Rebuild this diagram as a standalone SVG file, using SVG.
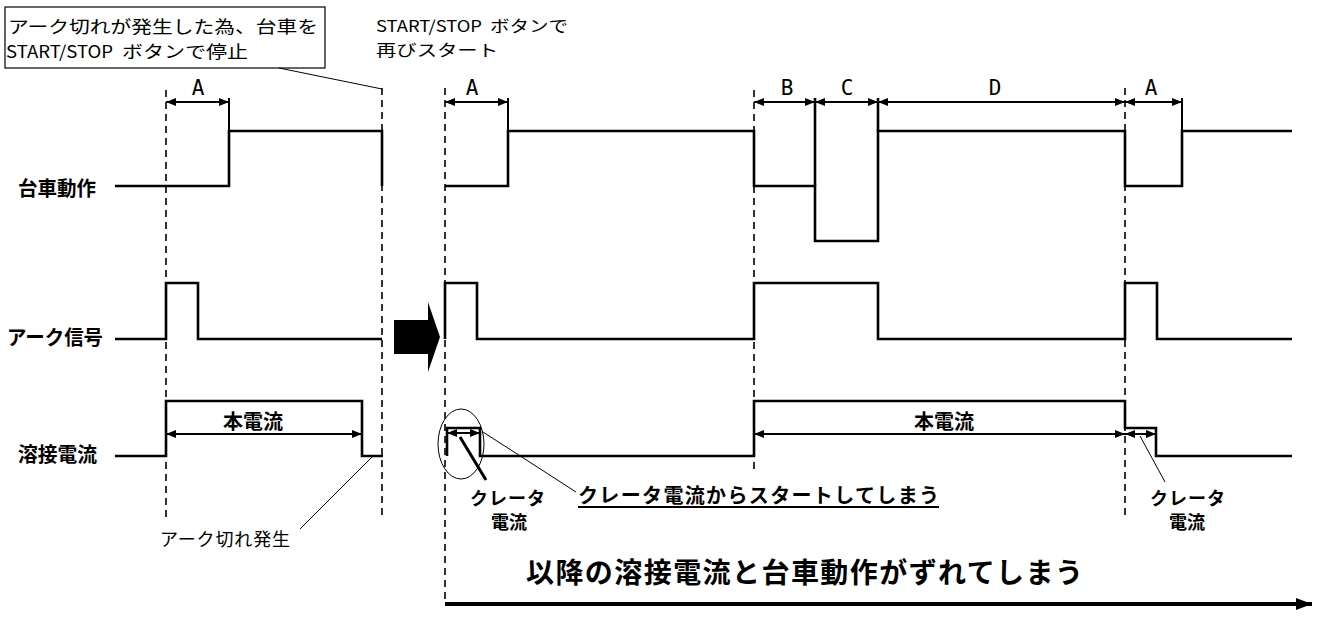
<svg xmlns="http://www.w3.org/2000/svg" width="1319" height="619" viewBox="0 0 1319 619">
<style>
.sig{fill:none;stroke:#000;stroke-width:2.6;stroke-linejoin:miter}
.dash{fill:none;stroke:#000;stroke-width:1.6;stroke-dasharray:7,5}
.dim{fill:none;stroke:#000;stroke-width:2}
.thin{fill:none;stroke:#000;stroke-width:1}
.jp{font-family:"Noto Sans CJK JP","Noto Sans CJK SC",sans-serif;fill:#000}
.b{font-weight:bold}
.lat{font-family:"DejaVu Sans Mono","Liberation Mono",monospace;fill:#000}
</style>
<defs>
<marker id="ah" viewBox="0 0 10 8" refX="10" refY="4" markerWidth="10" markerHeight="8" markerUnits="userSpaceOnUse" orient="auto-start-reverse"><path d="M0,0L10,4L0,8z" fill="#000"/></marker>
<marker id="bigah" viewBox="0 0 16 12" refX="16" refY="6" markerWidth="16" markerHeight="12" markerUnits="userSpaceOnUse" orient="auto"><path d="M0,0L16,6L0,12z" fill="#000"/></marker>
</defs>

<g id="notes">
<rect x="5" y="7" width="320" height="61" fill="#fff" stroke="#000" stroke-width="1.2"/>
<text class="jp" x="8" y="33" font-size="17" textLength="310" lengthAdjust="spacingAndGlyphs">アーク切れが発生した為、台車を</text>
<text class="jp" y="58" font-size="17"><tspan x="6" textLength="107" lengthAdjust="spacingAndGlyphs">START/STOP</tspan><tspan x="122" textLength="126" lengthAdjust="spacingAndGlyphs">ボタンで停止</tspan></text>
<text class="jp" y="32" font-size="16"><tspan x="376" textLength="106" lengthAdjust="spacingAndGlyphs">START/STOP</tspan><tspan x="490" textLength="78" lengthAdjust="spacingAndGlyphs">ボタンで</tspan></text>
<text class="jp" x="376" y="56" font-size="16" textLength="122" lengthAdjust="spacingAndGlyphs">再びスタート</text>
</g>

<g id="labels">
<text class="jp b" x="18" y="196" font-size="20" textLength="78" lengthAdjust="spacingAndGlyphs">台車動作</text>
<text class="jp b" x="7" y="345" font-size="20" textLength="96" lengthAdjust="spacingAndGlyphs">アーク信号</text>
<text class="jp b" x="18" y="462" font-size="20" textLength="79" lengthAdjust="spacingAndGlyphs">溶接電流</text>
</g>

<g id="guides">
<line class="dash" x1="166" y1="90" x2="166" y2="520"/>
<line class="dash" x1="382" y1="88" x2="382" y2="520"/>
<line class="dash" x1="445" y1="88" x2="445" y2="600"/>
<line class="dash" x1="754" y1="90" x2="754" y2="474"/>
<line class="dash" x1="1125" y1="88" x2="1125" y2="518"/>
</g>

<g id="daisha">
<polyline class="sig" points="115,186 229,186 229,131 382,131 382,186"/>
<polyline class="sig" points="445,186 508,186 508,131 754,131 754,186 815,186 815,241 878,241 878,131 1125,131 1125,186 1182,186 1182,131 1292,131"/>
</g>

<g id="arc">
<polyline class="sig" points="115,339 166,339 166,283 198,283 198,339 382,339"/>
<polyline class="sig" points="445,339 445,283 477,283 477,339 754,339 754,283 878,283 878,339 1125,339 1125,283 1157,283 1157,339 1292,339"/>
</g>

<g id="weld">
<polyline class="sig" points="115,456 166,456 166,401 362,401 362,456 383,456"/>
<polyline class="sig" points="447,456 447,428 480,428 480,456 754,456 754,401 1125,401 1125,428 1156,428 1156,456 1292,456"/>
</g>

<g id="connectors">
<line class="dim" x1="166" y1="102" x2="229" y2="102" marker-start="url(#ah)" marker-end="url(#ah)"/>
<line class="dim" x1="229" y1="98" x2="229" y2="131"/>
<line class="dim" x1="445" y1="102" x2="508" y2="102" marker-start="url(#ah)" marker-end="url(#ah)"/>
<line class="dim" x1="508" y1="98" x2="508" y2="131"/>
<line class="dim" x1="754" y1="102" x2="815" y2="102" marker-start="url(#ah)" marker-end="url(#ah)"/>
<line class="dim" x1="815" y1="102" x2="878" y2="102" marker-start="url(#ah)" marker-end="url(#ah)"/>
<line class="dim" x1="878" y1="102" x2="1125" y2="102" marker-start="url(#ah)" marker-end="url(#ah)"/>
<line class="dim" x1="1125" y1="102" x2="1182" y2="102" marker-start="url(#ah)" marker-end="url(#ah)"/>
<line class="sig" x1="815" y1="98" x2="815" y2="186"/>
<line class="sig" x1="878" y1="98" x2="878" y2="131"/>
<line class="dim" x1="1182" y1="98" x2="1182" y2="131"/>
<line class="dim" x1="166" y1="434" x2="362" y2="434" marker-start="url(#ah)" marker-end="url(#ah)"/>
<line class="dim" x1="754" y1="434" x2="1125" y2="434" marker-start="url(#ah)" marker-end="url(#ah)"/>
<line class="dim" x1="1125" y1="434" x2="1156" y2="434" marker-start="url(#ah)" marker-end="url(#ah)"/>
<line class="dim" x1="447" y1="433" x2="480" y2="433" marker-start="url(#ah)" marker-end="url(#ah)"/>
<line class="thin" x1="279" y1="68" x2="382" y2="89"/>
<line class="thin" x1="372" y1="457" x2="300" y2="529"/>
<ellipse cx="461" cy="444" rx="23" ry="35" fill="none" stroke="#000" stroke-width="1"/>
<line x1="460" y1="437" x2="486" y2="480" stroke="#000" stroke-width="3"/>
<line class="thin" x1="483" y1="432" x2="576" y2="492"/>
<line class="thin" x1="1140" y1="436" x2="1165" y2="482"/>
<line x1="578" y1="507" x2="939" y2="507" stroke="#000" stroke-width="2"/>
<line x1="445" y1="604" x2="1312" y2="604" stroke="#000" stroke-width="4" marker-end="url(#bigah)"/>
<polygon points="394,320 428,320 428,302 440,337 428,372 428,354 394,354" fill="#000"/>
</g>

<g id="dimtext">
<text class="lat" x="198" y="95" font-size="21" text-anchor="middle">A</text>
<text class="lat" x="472" y="95" font-size="21" text-anchor="middle">A</text>
<text class="lat" x="787" y="95" font-size="21" text-anchor="middle">B</text>
<text class="lat" x="847" y="95" font-size="21" text-anchor="middle">C</text>
<text class="lat" x="995" y="95" font-size="21" text-anchor="middle">D</text>
<text class="lat" x="1151" y="95" font-size="21" text-anchor="middle">A</text>
<text class="jp b" x="253" y="429" font-size="20" text-anchor="middle">本電流</text>
<text class="jp b" x="944" y="429" font-size="20" text-anchor="middle">本電流</text>
</g>

<g id="annotations">
<text class="jp b" x="470" y="505" font-size="18" textLength="75" lengthAdjust="spacing">クレータ</text>
<text class="jp b" x="509" y="529" font-size="18" text-anchor="middle">電流</text>
<text class="jp b" x="1150" y="505" font-size="18" textLength="75" lengthAdjust="spacing">クレータ</text>
<text class="jp b" x="1187" y="529" font-size="18" text-anchor="middle">電流</text>
<text class="jp b" x="578" y="503" font-size="20" textLength="361" lengthAdjust="spacing">クレータ電流からスタートしてしまう</text>
<text class="jp" x="160" y="546" font-size="18" textLength="130" lengthAdjust="spacing">アーク切れ発生</text>
<text class="jp b" x="526" y="583" font-size="28" textLength="557" lengthAdjust="spacing">以降の溶接電流と台車動作がずれてしまう</text>
</g>
</svg>
